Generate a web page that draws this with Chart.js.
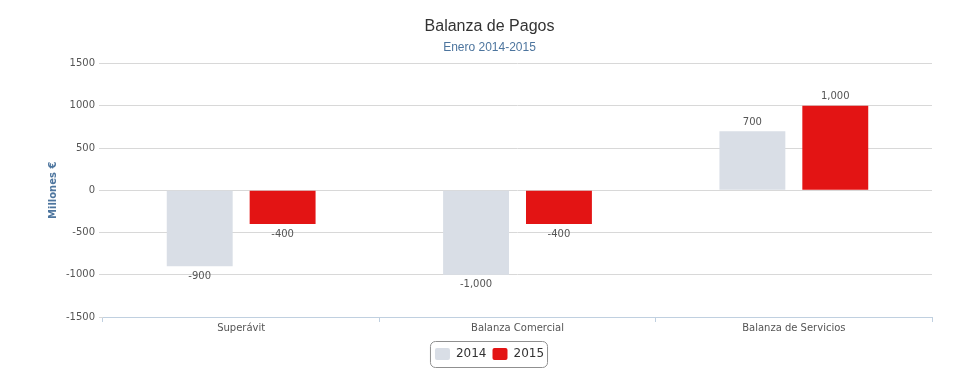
<!DOCTYPE html>
<html lang="es">
<head>
  <meta charset="UTF-8">
  <title>Balanza de Pagos</title>
  <script src="https://cdn.jsdelivr.net/npm/chart.js"></script>
  <style>
    html, body { margin: 0; padding: 0; background: white; }
    #wrap { width: 975px; height: 390px; position: relative; }
  </style>
</head>
<body>
<div id="wrap"><canvas id="chart"></canvas></div>

<script>
const categories = ['Superávit', 'Balanza Comercial', 'Balanza de Servicios'];
const values2014 = [-900, -1000, 700];
const values2015 = [-400, -400, 1000];
const yTicks = [-1500, -1000, -500, 0, 500, 1000, 1500];

const tickFont = { family: 'DejaVu Sans', size: 10 };

// value labels above / below each bar
const barLabels = {
  id: 'barLabels',
  afterDatasetsDraw(chart) {
    const ctx = chart.ctx;
    ctx.save();
    ctx.font = '10px "DejaVu Sans"';
    ctx.fillStyle = '#555';
    ctx.textAlign = 'center';
    chart.data.datasets.forEach((ds, i) => {
      chart.getDatasetMeta(i).data.forEach((bar, j) => {
        const v = ds.data[j];
        const txt = v.toLocaleString('en-US');
        if (v >= 0) { ctx.textBaseline = 'bottom'; ctx.fillText(txt, bar.x, bar.y - 4); }
        else { ctx.textBaseline = 'top'; ctx.fillText(txt, bar.x, bar.y + 5); }
      });
    });
    ctx.restore();
  }
};

// rounded border round the legend items
const legendBorder = {
  id: 'legendBorder',
  afterDraw(chart) {
    const boxes = chart.legend.legendHitBoxes;
    if (!boxes || !boxes.length) return;
    const left = Math.min(...boxes.map(b => b.left)) - 5;
    const right = Math.max(...boxes.map(b => b.left + b.width)) + 3;
    const top = Math.min(...boxes.map(b => b.top)) - 7;
    const bottom = Math.max(...boxes.map(b => b.top + b.height)) + 7;
    const ctx = chart.ctx;
    ctx.save();
    ctx.strokeStyle = '#909090';
    ctx.lineWidth = 1;
    ctx.beginPath();
    ctx.roundRect(left + 0.5, top + 0.5, right - left, bottom - top, 5);
    ctx.stroke();
    ctx.restore();
  }
};

new Chart(document.getElementById('chart'), {
  type: 'bar',
  data: {
    labels: categories,
    datasets: [
      { label: '2014', data: values2014, backgroundColor: '#d9dee6' },
      { label: '2015', data: values2015, backgroundColor: '#e31414' }
    ]
  },
  options: {
    responsive: true,
    maintainAspectRatio: false,
    animation: false,
    categoryPercentage: 0.6,
    barPercentage: 0.795,
    layout: { padding: { left: 47, right: 43, top: 9, bottom: 20 } },
    plugins: {
      title: {
        display: true, text: 'Balanza de Pagos', color: '#333',
        font: { family: 'Liberation Sans', size: 16, weight: 'normal' },
        padding: { top: 8, bottom: 4 }
      },
      subtitle: {
        display: true, text: 'Enero 2014-2015', color: '#4d759e',
        font: { family: 'Liberation Sans', size: 12 },
        padding: { bottom: 9 }
      },
      legend: {
        position: 'bottom',
        labels: {
          color: '#333', font: { family: 'DejaVu Sans', size: 12 },
          boxWidth: 15, boxHeight: 12, padding: 6, useBorderRadius: true, borderRadius: 2
        }
      },
      tooltip: { enabled: false }
    },
    scales: {
      x: {
        afterFit(scale) { scale.height += 8; },
        grid: { display: true, drawOnChartArea: false, drawTicks: true, tickLength: 5, color: '#c0d0e0', offset: true },
        border: { color: '#c0d0e0' },
        ticks: { color: '#555', font: tickFont, padding: 0 }
      },
      y: {
        min: -1500, max: 1500,
        afterBuildTicks(scale) { scale.ticks = yTicks.map(v => ({ value: v })); },
        afterFit(scale) { scale.width = 56; },
        grid: { color: '#d8d8d8', tickLength: 4 },
        border: { display: false },
        ticks: { color: '#555', font: tickFont, padding: 4, callback: v => String(v) },
        title: {
          display: true, text: 'Millones €', color: '#4d759e',
          font: { family: 'DejaVu Sans', size: 10, weight: 'bold' }, padding: 0
        }
      }
    }
  },
  plugins: [barLabels, legendBorder]
});
</script>
</body>
</html>
